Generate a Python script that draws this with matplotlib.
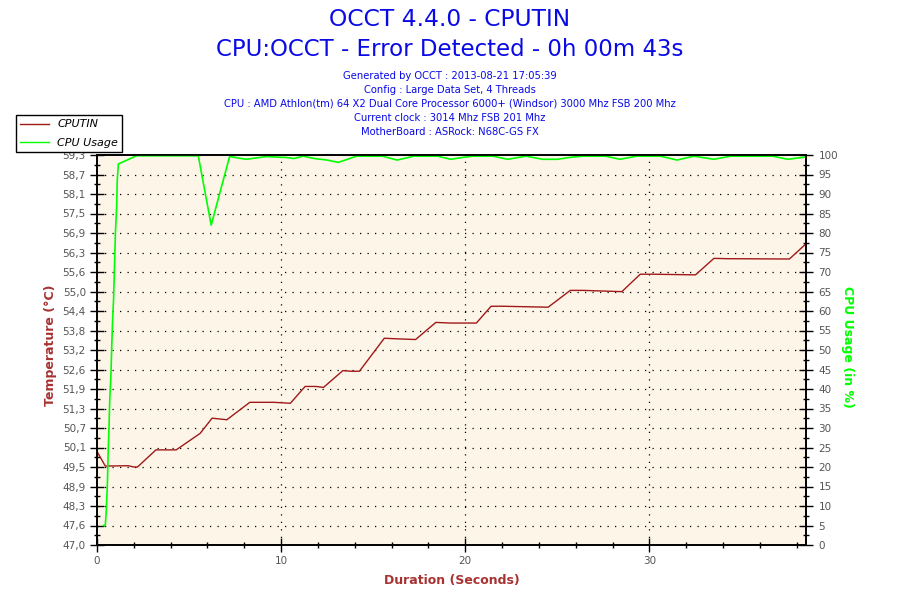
import numpy as np
from matplotlib import pyplot as plt
from matplotlib.lines import Line2D

# temperature readings (seconds, degrees C)
temp_time = [0, 0.45, 1.7, 2.0, 2.2, 3.2, 4.3, 5.6, 6.25, 7.05, 8.3, 9.6, 10.5,
             11.3, 11.9, 12.3, 13.35, 13.8, 14.25, 15.6, 16.4, 17.3, 18.4, 19.2,
             20.6, 21.4, 22.0, 24.5, 25.7, 26.4, 28.5, 29.5, 30.2, 32.5, 33.5,
             34.2, 37.6, 38.5]
temp_vals = [49.95, 49.49, 49.5, 49.46, 49.46, 50.0, 50.0, 50.52, 51.0, 50.95,
             51.5, 51.5, 51.47, 52.0, 52.0, 51.97, 52.5, 52.48, 52.48, 53.52,
             53.5, 53.48, 54.02, 54.0, 54.0, 54.53, 54.53, 54.5, 55.03, 55.03,
             54.99, 55.54, 55.54, 55.52, 56.04, 56.03, 56.02, 56.5]

# cpu usage (seconds, percent)
cpu_time = [0.35, 0.45, 0.5, 0.56, 0.6, 0.65, 0.69, 0.76, 0.8, 0.85, 0.9, 1.0,
            1.07, 1.1, 1.16, 2.15, 5.5, 6.2, 7.2, 8.1, 9.2, 10.0, 10.2, 10.7,
            11.2, 11.8, 12.5, 13.1, 14.1, 15.5, 16.3, 17.2, 18.5, 19.2, 19.9,
            20.4, 21.5, 22.3, 23.3, 24.2, 25.0, 25.7, 26.4, 27.6, 28.4, 29.3,
            30.6, 31.5, 32.4, 33.5, 34.4, 36.7, 37.5, 38.5]
cpu_vals = [5, 5, 8.5, 15, 22.6, 30, 37, 44, 51, 58, 63, 80, 87, 93.6, 97.7,
            99.8, 99.8, 82, 99.6, 98.9, 99.6, 99.4, 99.4, 99.1, 99.7, 99.1,
            98.7, 98.1, 99.7, 99.7, 98.7, 99.7, 99.7, 98.9, 99.4, 99.7, 99.7,
            98.9, 99.7, 98.9, 98.9, 99.4, 99.7, 99.7, 98.9, 99.7, 99.7, 98.7,
            99.7, 98.9, 99.7, 99.7, 98.9, 99.5]

temp_labels = ['47,0', '47,6', '48,3', '48,9', '49,5', '50,1', '50,7', '51,3',
               '51,9', '52,6', '53,2', '53,8', '54,4', '55,0', '55,6', '56,3',
               '56,9', '57,5', '58,1', '58,7', '59,3']

header_lines = [
    'Generated by OCCT : 2013-08-21 17:05:39',
    'Config : Large Data Set, 4 Threads',
    'CPU : AMD Athlon(tm) 64 X2 Dual Core Processor 6000+ (Windsor) 3000 Mhz FSB 200 Mhz',
    'Current clock : 3014 Mhz FSB 201 Mhz',
    'MotherBoard : ASRock: N68C-GS FX',
]

blue = '#0a0ae6'
red = '#a01818'
label_red = '#a83232'
green = '#00ff00'
tick_grey = '#555555'

plt.rcParams['font.family'] = ['DejaVu Sans']

fig = plt.figure(figsize=(9, 6), dpi=100)
ax = fig.add_axes([97 / 900, 1 - 545 / 600, 709 / 900, 390 / 600])
ax.set_facecolor('#fdf6e8')
ax2 = ax.twinx()

ax.plot(temp_time, temp_vals, color=red, lw=1.0)
ax2.plot(cpu_time, cpu_vals, color=green, lw=1.2)

ax.set_xlim(0, 38.5)
ax.set_ylim(47.0, 59.3)
ax2.set_ylim(0, 100)

yt = np.linspace(47.0, 59.3, 21)
ax.set_yticks(yt)
ax.set_yticklabels(temp_labels)
ax.set_yticks(yt[:-1] + (yt[1] - yt[0]) / 2, minor=True)
ax2.set_yticks(np.arange(0, 101, 5))
ax2.set_yticks(np.arange(2.5, 100, 5), minor=True)
ax.set_xticks([0, 10, 20, 30])
ax.set_xticks(np.arange(0, 39, 2), minor=True)

for a in (ax, ax2):
    a.tick_params(which='major', direction='inout', length=10, width=1,
                  labelsize=7.5, labelcolor=tick_grey, color='black')
    a.tick_params(which='minor', direction='inout', length=5, width=1, color='black')
    for s in a.spines.values():
        s.set_linewidth(1.2)
ax.tick_params(axis='y', pad=3)
ax.tick_params(axis='x', pad=3)
ax2.tick_params(axis='y', pad=4)

dots = (0, (1, 5))
for y in yt[1:-1]:
    ax.axhline(y, color='black', lw=0.9, ls=dots, zorder=1)
for x in [10, 20, 30]:
    ax.axvline(x, color='black', lw=0.9, ls=dots, zorder=1)

ax.set_ylabel('Temperature (°C)', color=label_red, fontweight='bold', fontsize=9)
ax.yaxis.set_label_coords(-0.057, 0.513)
ax2.set_ylabel('CPU Usage (in %)', color=green, fontweight='bold', fontsize=9,
               rotation=-90, va='center')
ax2.yaxis.set_label_coords(1.059, 0.508)
ax.set_xlabel('Duration (Seconds)', color=label_red, fontweight='bold', fontsize=9)
ax.xaxis.set_label_coords(0.5, -0.074)

fig.text(0.5, 1 - 20 / 600, 'OCCT 4.4.0 - CPUTIN', ha='center', va='center',
         color=blue, fontsize=16.8)
fig.text(0.5, 1 - 50 / 600, 'CPU:OCCT - Error Detected - 0h 00m 43s',
         ha='center', va='center', color=blue, fontsize=16.5)
for i, line in enumerate(header_lines):
    fig.text(0.5, 1 - (76 + i * 14) / 600, line, ha='center', va='center',
             color=blue, fontsize=7.2)

handles = [Line2D([], [], color=red, lw=1.0), Line2D([], [], color=green, lw=1.0)]
leg = fig.legend(handles, ['CPUTIN', 'CPU Usage'], loc='upper left',
                 bbox_to_anchor=(16 / 900, 1 - 115 / 600), fancybox=False,
                 framealpha=1, edgecolor='black', prop={'style': 'italic', 'size': 8},
                 borderpad=0.4, handlelength=2.6, handletextpad=0.7,
                 labelspacing=0.75, borderaxespad=0)
leg.get_frame().set_linewidth(1.0)

fig.savefig('out.png', dpi=100)
